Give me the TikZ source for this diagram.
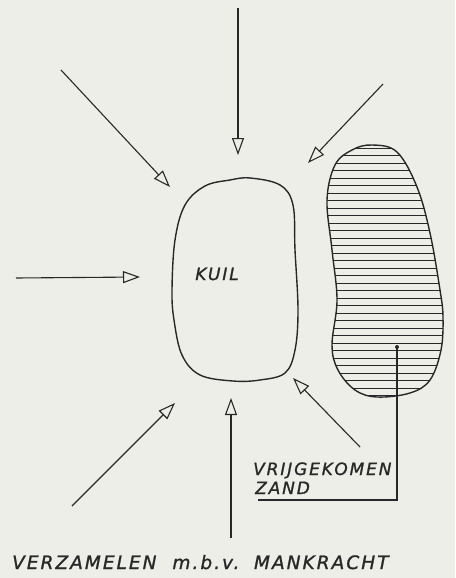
\documentclass[tikz,border=0pt]{standalone}
\usepackage{fontspec}
\setmainfont{DejaVu Sans}
\newfontfamily\stencil[LetterSpace=11,FakeBold=1.2]{DejaVu Sans}
\usepackage{xcolor}
\definecolor{paper}{RGB}{238,238,232}
\definecolor{ink}{RGB}{40,40,40}
\usetikzlibrary{arrows.meta}

\begin{document}
\begin{tikzpicture}[
  x=1pt,y=-1pt,
  every node/.style={font=\stencil\fontsize{17}{19}\selectfont\itshape,text=ink,inner sep=0pt},
  flow/.style={-{Triangle[open,length=17pt,width=12pt,line width=1.1pt]},line width=1.1pt,draw=ink},
  outline/.style={line width=1.4pt,draw=ink},
  hatch/.style={line width=1pt,draw=ink},
]
  % Paper
  \fill[paper] (0,0) rectangle (455,578);
  \useasboundingbox (0,0) rectangle (455,578);

  % Kuil (pit)
  \draw[outline] plot[smooth cycle,tension=0.6] coordinates {
    (250,178) (280,185) (293,205) (295,250) (298,310) (295,350) (285,373)
    (260,380) (233,381) (200,375) (182,355) (174,320) (172,290) (175,240)
    (185,205) (205,186) (230,180)};
  \node (kuil) at (217,274) {KUIL};

  % Vrijgekomen zand (hatched heap)
  \begin{scope}
    \clip plot[smooth cycle,tension=0.6] coordinates {
      (372,145) (397,152) (417,187) (430,233) (440,290) (443,317) (441,350)
      (430,380) (410,393) (377,397) (355,390) (338,370) (332,345) (337,300)
      (332,250) (327,200) (335,165) (352,150)};
    \foreach \y in {148,155.5,...,400}
      \draw[hatch] (320,\y) -- (450,\y);
  \end{scope}
  \draw[outline] plot[smooth cycle,tension=0.6] coordinates {
    (372,145) (397,152) (417,187) (430,233) (440,290) (443,317) (441,350)
    (430,380) (410,393) (377,397) (355,390) (338,370) (332,345) (337,300)
    (332,250) (327,200) (335,165) (352,150)};

  % Arrow ends
  \coordinate (ntail) at (238,8);    \coordinate (ntip) at (238,155);
  \coordinate (nwtail) at (61,70);   \coordinate (nwtip) at (170,187);
  \coordinate (netail) at (383,84);  \coordinate (netip) at (308,163);
  \coordinate (wtail) at (16,278);   \coordinate (wtip) at (140,277);
  \coordinate (swtail) at (72,506);  \coordinate (swtip) at (175,403);
  \coordinate (stail) at (231,538);  \coordinate (stip) at (231,398);
  \coordinate (setail) at (360,447); \coordinate (setip) at (293,378);

  % Arrows towards the pit
  \draw[flow] (ntail) -- (ntip);
  \draw[flow] (nwtail) -- (nwtip);
  \draw[flow] (netail) -- (netip);
  \draw[flow] (wtail) -- (wtip);
  \draw[flow] (swtail) -- (swtip);
  \draw[flow] (stail) -- (stip);
  \draw[flow] (setail) -- (setip);

  % Leader to label
  \coordinate (dot) at (397,347);
  \coordinate (lineend) at (258,500);
  \fill[ink] (dot) circle (2pt);
  \draw[line width=1.1pt,ink] (dot) |- (lineend);
  \node[anchor=base west] (vrij) at (253,475) {VRIJGEKOMEN};
  \node[anchor=base west] (zand) at (255,494) {ZAND};

  % Caption
  \node[anchor=base west,font=\stencil\fontsize{18.5}{20}\selectfont\itshape] (caption) at (12,569)
    {VERZAMELEN\hspace{8pt} m.b.v.\hspace{4pt} MANKRACHT};
\end{tikzpicture}
\end{document}
